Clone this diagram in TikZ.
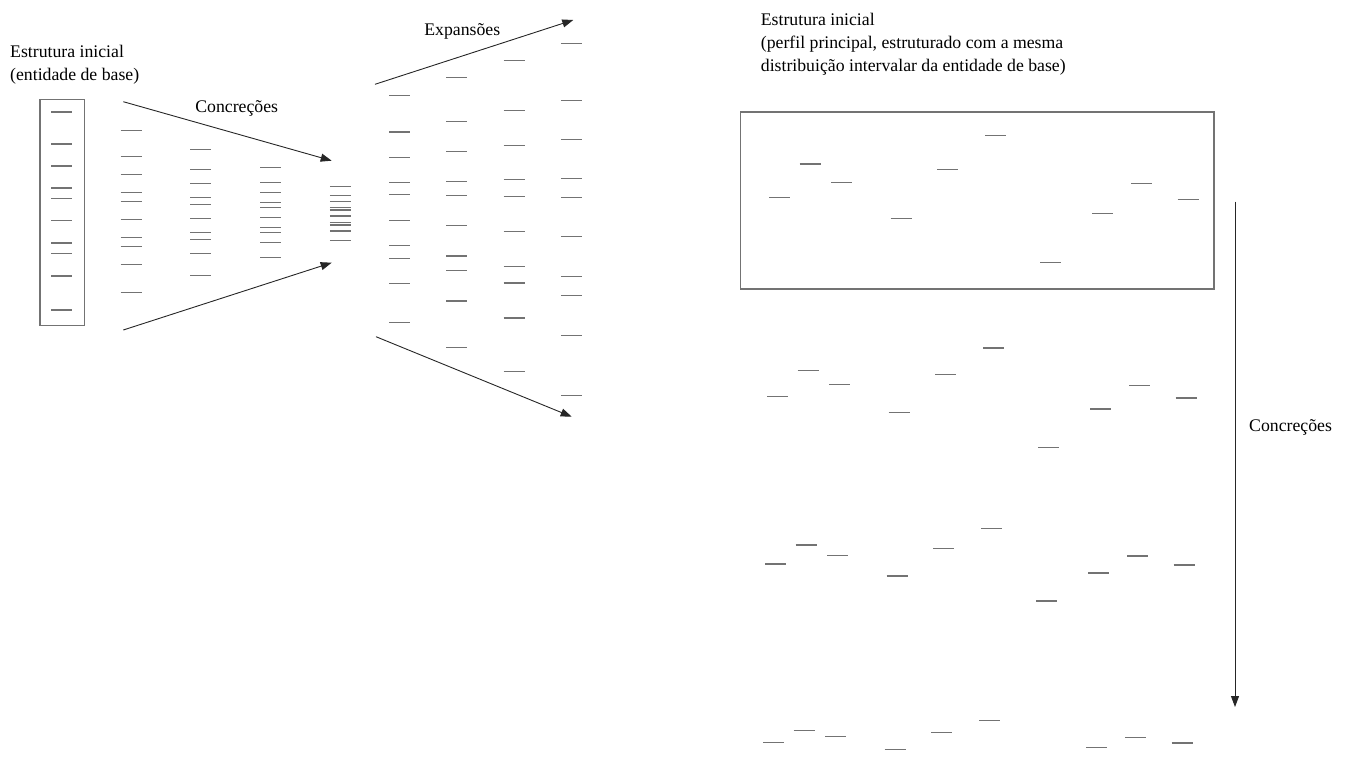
\documentclass[tikz,border=0pt]{standalone}
\usepackage{fontspec}
\setmainfont{Liberation Serif}
\usetikzlibrary{arrows.meta}

\begin{document}
\begin{tikzpicture}[x=1bp, y=-1bp,
    every node/.style={font=\fontsize{17.8}{22.6}\selectfont, inner sep=0pt},
    seg/.style={draw=black!55, line width=1.2bp},
    frame/.style={draw=black!55, line width=1.2bp},
    flow/.style={draw=black!85, line width=0.9bp, -{Triangle[length=11bp, width=8bp]}}]
   \useasboundingbox (0,0) rectangle (1347,764);

   % Labels
   \node[anchor=base west, align=left] (base) at (10,80.3) {Estrutura inicial\\(entidade de base)};
   \node (conc) at (236.7,108.3) {Concreções};
   \node (expa) at (462.3,31.7) {Expansões};
   \node[anchor=base west, align=left] (prof) at (760.7,71)
      {Estrutura inicial\\(perfil principal, estruturado com a mesma\\distribuição intervalar da entidade de base)};
   \node[anchor=west] (conc2) at (1249,427) {Concreções};

   % Entity of base and its concretions
   \draw[frame] (40,99.3) rectangle (84.3,325.3);
   \foreach \k in {0,...,4}
     \foreach \d in {-99,-67,-45,-23,-12.3,9.7,32,42.7,65,99}
       \draw[seg] ({51+69.7*\k}, {211+0.6*\k+\d*(1-0.182*\k)}) -- ++(21,0);

   % Expansions
   \foreach \j in {1,...,4}
     \foreach \d in {-99,-67,-45,-23,-12.3,9.7,32,42.7,65,99}
       \draw[seg] ({389+57.3*(\j-1)}, {205.5+3.5*\j+\d*(0.94+0.21*\j)}) -- ++(21,0);

   % Main profile and its concretions
   \draw[frame] (740.7,112) rectangle (1214,289);
   \foreach \r/\c in {0/199,1/397.7,2/564.9,3/742.8}
     \foreach \x/\d [count=\i] in {769.3/-1.7,799.7/-35,831.3/-16.7,890.7/19.3,937/-29.3,
                                   985.3/-63.3,1040.3/63.3,1092/14.3,1131.3/-15.7,1177.7/0.3}{
       \ifnum\numexpr\r*10+\i\relax=37 \else
         \draw[seg] ({\x-2*\r}, {\c+\d*(1-0.215*\r)}) -- ++(21,0);
       \fi
     }

   % Arrows
   \coordinate (c1s) at (123.3,101.7);
   \coordinate (c1e) at (331.7,160.7);
   \coordinate (c2s) at (123.3,330);
   \coordinate (c2e) at (331.7,262.7);
   \coordinate (e1s) at (375,84.3);
   \coordinate (e1e) at (573.3,20);
   \coordinate (e2s) at (376,336.7);
   \coordinate (e2e) at (571.7,416.7);
   \coordinate (r1s) at (1235,201.7);
   \coordinate (r1e) at (1235,707);
   \draw[flow] (c1s) -- (c1e);
   \draw[flow] (c2s) -- (c2e);
   \draw[flow] (e1s) -- (e1e);
   \draw[flow] (e2s) -- (e2e);
   \draw[flow] (r1s) -- (r1e);
\end{tikzpicture}
\end{document}
